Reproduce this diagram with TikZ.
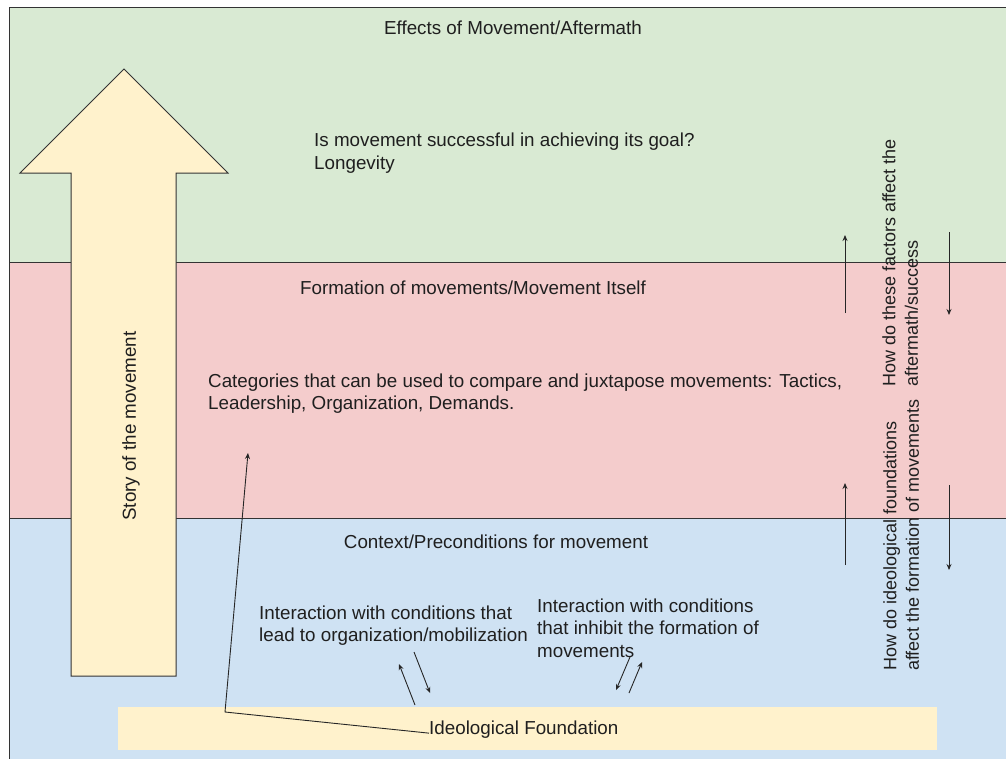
\documentclass[tikz,border=0pt]{standalone}
\usepackage{fontspec}
\setmainfont{Liberation Sans}
\usetikzlibrary{arrows.meta}
\definecolor{bandgreen}{HTML}{D9EAD3}
\definecolor{bandpink}{HTML}{F4CCCC}
\definecolor{bandblue}{HTML}{CFE2F3}
\definecolor{paleyellow}{HTML}{FFF2CC}
\definecolor{linegray}{HTML}{333333}
\definecolor{txt}{HTML}{1F1F1F}
\begin{document}
\begin{tikzpicture}[x=1pt,y=-1pt,
  band/.style={draw=linegray, line width=1pt},
  lbl/.style={inner sep=0pt, text=txt, font=\fontsize{18.8}{22.5}\selectfont},
  vlbl/.style={lbl, rotate=90, anchor=north west, align=left, font=\fontsize{18}{22.5}\selectfont},
  conn/.style={draw=black!85, line width=0.9pt, -{Stealth[length=6pt,width=5pt]}},
]
\useasboundingbox (0,0) rectangle (1006,758);
\clip (0,0) rectangle (1006,758);
\fill[white] (0,0) rectangle (1006,758);
% bands
\draw[band, fill=bandgreen] (9,7) rectangle (1015,262);
\draw[band, fill=bandpink] (9,262) rectangle (1015,518);
\draw[band, fill=bandblue] (9,518) rectangle (1015,768);
% big arrow
\draw[line width=1pt, draw=linegray, fill=paleyellow, line join=miter]
  (124,69) -- (228,173) -- (176,173) -- (176,676) -- (71,676) -- (71,173) -- (20,173) -- cycle;
\node[lbl, rotate=90] (story) at (131,426) {Story of the movement};
% titles
\node[lbl, anchor=base] (effects) at (513,34) {Effects of Movement/Aftermath};
\node[lbl, anchor=base] (formation) at (473,294) {Formation of movements/Movement Itself};
\node[lbl, anchor=base] (context) at (496,548) {Context/Preconditions for movement};
% body texts
\node[lbl, anchor=north west, align=left] (success) at (314,133)
  {Is movement successful in achieving its goal?\\Longevity};
\node[lbl, anchor=north west, align=left] (categories) at (208,373.5)
  {Categories that can be used to compare and juxtapose movements: Tactics,\\Leadership, Organization, Demands.};
\node[lbl, anchor=north west, align=left] (lead) at (259,605.5)
  {Interaction with conditions that\\lead to organization/mobilization};
\node[lbl, anchor=north west, align=left] (inhibit) at (537,598.5)
  {Interaction with conditions\\that inhibit the formation of\\movements};
% rotated questions
\node[vlbl] (q1) at (882,387)
  {How do these factors affect the\\aftermath/success};
\node[vlbl] (q2) at (883,671)
  {How do ideological foundations\\affect the formation of movements};
% foundation
\node[fill=paleyellow, inner sep=0pt, minimum width=819pt, minimum height=43pt, anchor=north west] (found) at (118,707) {};
\node[lbl, anchor=base west] (ftext) at (429,734) {Ideological Foundation};
% connector from foundation
\coordinate (corner) at (225,712);
\coordinate (tipA) at (248,453);
\draw[conn] ([yshift=-4pt]ftext.west) -- (corner) -- (tipA);
% small arrows near lead text
\coordinate (la1) at (415,705); \coordinate (la2) at (399,664);
\coordinate (lb1) at (414,652); \coordinate (lb2) at (430,693);
\draw[conn] (la1) -- (la2);
\draw[conn] (lb1) -- (lb2);
% small arrows near inhibit text
\coordinate (ia1) at (630,657); \coordinate (ia2) at (616,690);
\coordinate (ib1) at (629,693); \coordinate (ib2) at (642,662);
\draw[conn] (ia1) -- (ia2);
\draw[conn] (ib1) -- (ib2);
% right-hand vertical arrows
\coordinate (ru1) at (845,313); \coordinate (ru2) at (845,235);
\coordinate (rd1) at (949,232); \coordinate (rd2) at (949,315);
\coordinate (su1) at (845,565); \coordinate (su2) at (845,483);
\coordinate (sd1) at (949,485); \coordinate (sd2) at (949,570);
\draw[conn] (ru1) -- (ru2);
\draw[conn] (rd1) -- (rd2);
\draw[conn] (su1) -- (su2);
\draw[conn] (sd1) -- (sd2);
\end{tikzpicture}
\end{document}
